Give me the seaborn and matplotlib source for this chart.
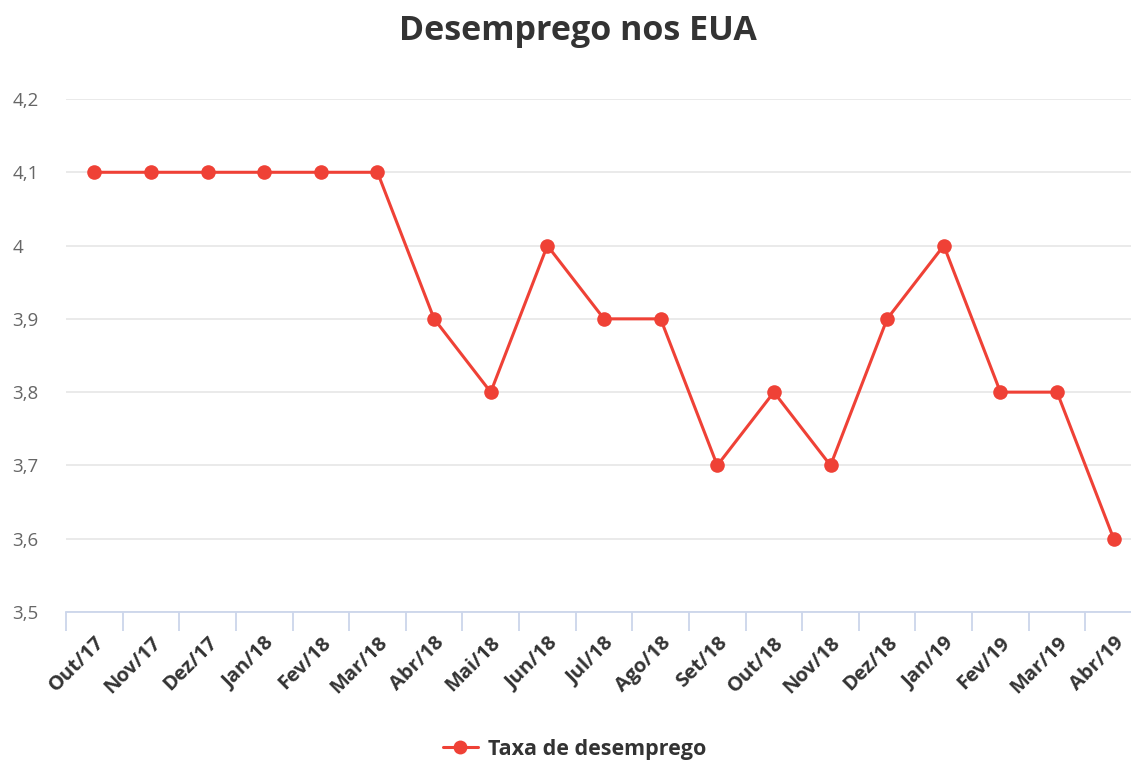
import matplotlib
matplotlib.use("Agg")
import matplotlib.pyplot as plt
import seaborn as sns
import numpy as np
import pandas as pd
from matplotlib.ticker import FixedLocator, FuncFormatter
from matplotlib.lines import Line2D

categories = ["Out/17", "Nov/17", "Dez/17", "Jan/18", "Fev/18", "Mar/18", "Abr/18",
              "Mai/18", "Jun/18", "Jul/18", "Ago/18", "Set/18", "Out/18", "Nov/18",
              "Dez/18", "Jan/19", "Fev/19", "Mar/19", "Abr/19"]
taxa = [4.1, 4.1, 4.1, 4.1, 4.1, 4.1, 3.9, 3.8, 4.0, 3.9, 3.9, 3.7, 3.8, 3.7,
        3.9, 4.0, 3.8, 3.8, 3.6]
y_ticks = [3.5, 3.6, 3.7, 3.8, 3.9, 4.0, 4.1, 4.2]
series_name = "Taxa de desemprego"
title = "Desemprego nos EUA"

sns.set_theme(style="white")
plt.rcParams['font.family'] = ['Open Sans', 'DejaVu Sans']

RED = "#ef4136"
W, H = 1131, 760
fig = plt.figure(figsize=(W / 100, H / 100), dpi=100)
left, right, top, bottom = 66, 1142, 99, 612
ax = fig.add_axes([left / W, 1 - bottom / H, (right - left) / W, (bottom - top) / H])

df = pd.DataFrame({"pos": np.arange(len(categories)), "taxa": taxa})
sns.lineplot(data=df, x="pos", y="taxa", ax=ax, color=RED, linewidth=2.2,
             marker="o", markersize=10.5, markeredgewidth=0, clip_on=False)

ax.set_xlim(-0.5, len(categories) - 0.5)
ax.set_ylim(3.5, 4.2)
ax.set_xlabel("")
ax.set_ylabel("")

ax.yaxis.set_major_locator(FixedLocator(y_ticks))
def fmt(v, _):
    s = f"{v:.1f}".replace(".", ",")
    if s.endswith(",0"):
        s = s[:-2]
    return s
ax.yaxis.set_major_formatter(FuncFormatter(fmt))
ax.grid(axis="y", color="#e6e6e6", linewidth=1.2)
ax.grid(axis="x", visible=False)
ax.tick_params(axis="y", length=0, pad=38.5, labelsize=13.5, labelcolor="#666666")
for lbl in ax.get_yticklabels():
    lbl.set_horizontalalignment("left")

ax.set_xticks(np.arange(len(categories)))
ax.set_xticklabels(categories, rotation=45, ha="right", rotation_mode="anchor",
                   fontsize=14.5, fontweight="bold", color="#333333")
ax.set_xticks(np.arange(len(categories) + 1) - 0.5, minor=True)
ax.tick_params(axis="x", which="major", length=0, pad=15)
ax.tick_params(axis="x", which="minor", length=14, width=1.3, color="#ccd6eb",
               direction="out", bottom=True)

for s in ["top", "right", "left"]:
    ax.spines[s].set_visible(False)
ax.spines["bottom"].set_color("#ccd6eb")
ax.spines["bottom"].set_linewidth(1.3)

fig.text(578 / W, 1 - 31 / H, title, ha="center", va="center",
         fontsize=24.5, fontweight="bold", color="#333333")

handle = Line2D([], [], color=RED, linewidth=2.2, marker="o", markersize=10,
                markeredgewidth=0)
fig.legend([handle], [series_name], loc="center", bbox_to_anchor=(575 / W, 1 - 749 / H),
           frameon=False, prop={"weight": "bold", "size": 15.5}, labelcolor="#333333",
           handlelength=1.6, handletextpad=0.5)

fig.savefig("out.png", dpi=100)
